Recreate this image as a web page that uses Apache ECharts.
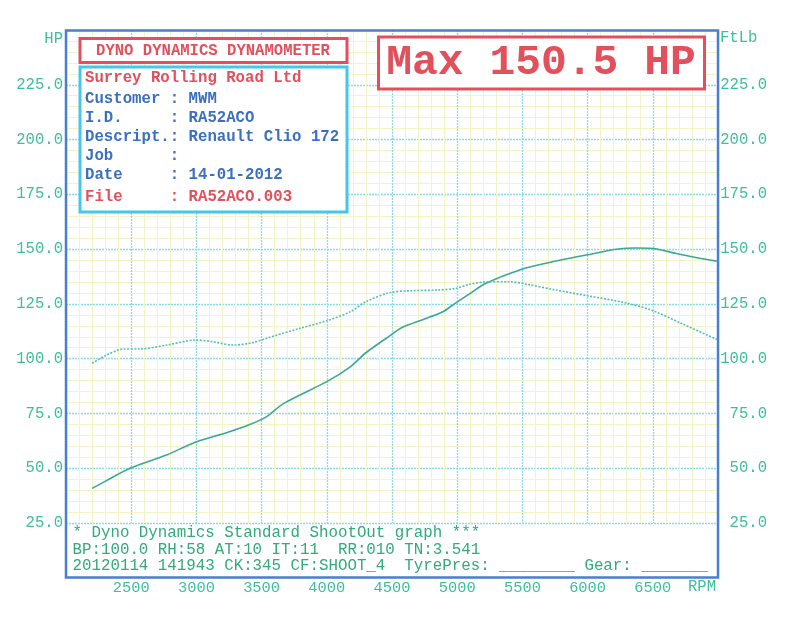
<!DOCTYPE html>
<html>
<head>
<meta charset="utf-8">
<script src="https://cdn.jsdelivr.net/npm/echarts@6/dist/echarts.min.js"></script>
<style>
html,body{margin:0;padding:0;background:#fff;}
#chart{width:799px;height:631px;}
</style>
</head>
<body>
<div id="chart"></div>
<script>
// ---- data ----
const hpRpm = [2200,2300,2490,2770,3000,3230,3400,3530,3670,4000,4180,4300,4480,4580,4740,4890,4990,5100,5220,5490,5730,5990,6220,6370,6500,6680,6830,6990];
const hpVal = [40.8,44.0,50.0,56.0,62.1,66.2,69.7,73.2,79.6,89.5,96.3,102.7,110.3,114.3,117.9,121.4,125.5,129.8,134.4,140.7,144.2,147.3,149.9,150.5,150.3,148.0,146.2,144.5];
const tqRpm = [2200,2310,2440,2560,2770,3000,3130,3280,3430,3560,3790,4000,4180,4300,4480,4640,4840,4990,5100,5250,5400,5530,5760,6010,6290,6500,6730,6990];
const tqVal = [97.9,101.6,104.4,104.4,106.2,108.5,107.7,106.2,107.3,109.7,113.8,117.3,121.4,126.0,130.1,131.0,131.3,132.1,134.0,135.1,135.1,134.0,131.3,128.6,125.5,121.9,115.8,108.8];
const xTicks = [2500,3000,3500,4000,4500,5000,5500,6000,6500];
const yTicks = [25,50,75,100,125,150,175,200,225];
const infoLines = [
  ['Surrey Rolling Road Ltd', 'red'],
  ['Customer : MWM', 'blue'],
  ['I.D.     : RA52ACO', 'blue'],
  ['Descript.: Renault Clio 172', 'blue'],
  ['Job      :', 'blue'],
  ['Date     : 14-01-2012', 'blue'],
  ['File     : RA52ACO.003', 'red']
];
const footerLines = [
  '* Dyno Dynamics Standard ShootOut graph ***',
  'BP:100.0 RH:58 AT:10 IT:11  RR:010 TN:3.541',
  '20120114 141943 CK:345 CF:SHOOT_4  TyrePres: ________ Gear: _______'
];
const titleText = 'DYNO DYNAMICS DYNAMOMETER';
const maxText = 'Max 150.5 HP';

// ---- styling ----
const MONO = '"Liberation Mono","DejaVu Sans Mono",monospace';
const RED = '#e2505c';
const BLUE = '#3c6fc0';
const TEAL = '#3cbf9c';
const FOOT = '#33a97c';
const chart = echarts.init(document.getElementById('chart'));

const hpData = hpRpm.map((r,i)=>[r,hpVal[i]]);
const tqData = tqRpm.map((r,i)=>[r,tqVal[i]]);

function yLabel(v){ return yTicks.indexOf(v) >= 0 ? v.toFixed(1) : ''; }

const graphics = [
  // outer frame
  {type:'rect', shape:{x:66,y:30.5,width:652,height:547}, style:{fill:null, stroke:'#4a7fcf', lineWidth:2.5}, z:10},
  // title box
  {type:'rect', shape:{x:80,y:38.5,width:267,height:24}, style:{fill:'#fff', stroke:RED, lineWidth:3}, z:10},
  {type:'text', x:213, y:51, style:{text:titleText, font:'bold 15.6px '+MONO, fill:RED, align:'center', verticalAlign:'middle'}, z:11},
  // info box
  {type:'rect', shape:{x:80,y:67,width:267,height:145}, style:{fill:'#fff', stroke:'#45c6ea', lineWidth:3}, z:10},
  // max box
  {type:'rect', shape:{x:378.5,y:37,width:326,height:52}, style:{fill:'#fff', stroke:RED, lineWidth:3}, z:10},
  {type:'text', x:541, y:63, style:{text:maxText, font:'bold 43px '+MONO, fill:RED, align:'center', verticalAlign:'middle'}, z:11},
  // axis titles
  {type:'text', x:63, y:39, style:{text:'HP', font:'15.6px '+MONO, fill:TEAL, align:'right', verticalAlign:'middle'}, z:11},
  {type:'text', x:720, y:38, style:{text:'FtLb', font:'15.6px '+MONO, fill:TEAL, align:'left', verticalAlign:'middle'}, z:11},
  {type:'text', x:688, y:587, style:{text:'RPM', font:'15.6px '+MONO, fill:TEAL, align:'left', verticalAlign:'middle'}, z:11}
];
const infoY = [78,99,118.5,137.5,156.5,175.5,197.5];
infoLines.forEach((l,i)=>{
  graphics.push({type:'text', x:85, y:infoY[i], style:{text:l[0], font:'bold 15.7px '+MONO, fill:l[1]==='red'?RED:BLUE, align:'left', verticalAlign:'middle'}, z:11});
});
const footY = [533,549.5,566];
footerLines.forEach((t,i)=>{
  graphics.push({type:'text', x:72.5, y:footY[i], style:{text:t, font:'15.8px '+MONO, fill:FOOT, align:'left', verticalAlign:'middle'}, z:11});
});

const option = {
  backgroundColor:'#ffffff',
  animation:false,
  grid:{left:66, right:81, top:30, bottom:108, containLabel:false},
  xAxis:{
    type:'value', min:2000, max:7000, interval:500,
    axisLine:{show:false}, axisTick:{show:false},
    axisLabel:{margin:57, color:TEAL, fontFamily:MONO, fontSize:15.4,
      formatter:v=> xTicks.indexOf(v)>=0 ? String(v) : ''},
    splitLine:{show:true, lineStyle:{color:'#8cd9ec', width:1.3, type:[2,1]}},
    minorTick:{show:false, splitNumber:5},
    minorSplitLine:{show:true, lineStyle:{color:'#f2f4c8', width:1}}
  },
  yAxis:[
    {type:'value', position:'left', min:25, max:250, interval:25,
      axisLine:{show:false}, axisTick:{show:false},
      axisLabel:{margin:3, color:TEAL, fontFamily:MONO, fontSize:15.6, formatter:yLabel, padding:[0,0,4,0]},
      splitLine:{show:true, lineStyle:{color:'#8cd9ec', width:1.3, type:[2,1]}},
      minorTick:{show:false, splitNumber:5},
      minorSplitLine:{show:true, lineStyle:{color:'#f2f4c8', width:1}}
    },
    {type:'value', position:'right', min:25, max:250, interval:25,
      axisLine:{show:false}, axisTick:{show:false},
      axisLabel:{margin:49, align:'right', color:TEAL, fontFamily:MONO, fontSize:15.6, formatter:yLabel, padding:[0,0,4,0]},
      splitLine:{show:false}
    }
  ],
  series:[
    {name:'HP', type:'line', data:hpData, yAxisIndex:0, showSymbol:false, smooth:0.3,
      lineStyle:{color:'#3aa896', width:1.6}, z:5},
    {name:'FtLb', type:'line', data:tqData, yAxisIndex:1, showSymbol:false, smooth:0.3,
      lineStyle:{color:'#55bcbc', width:1.6, type:[2,1.5]}, z:5}
  ],
  graphic:graphics
};
chart.setOption(option);
</script>
</body>
</html>
